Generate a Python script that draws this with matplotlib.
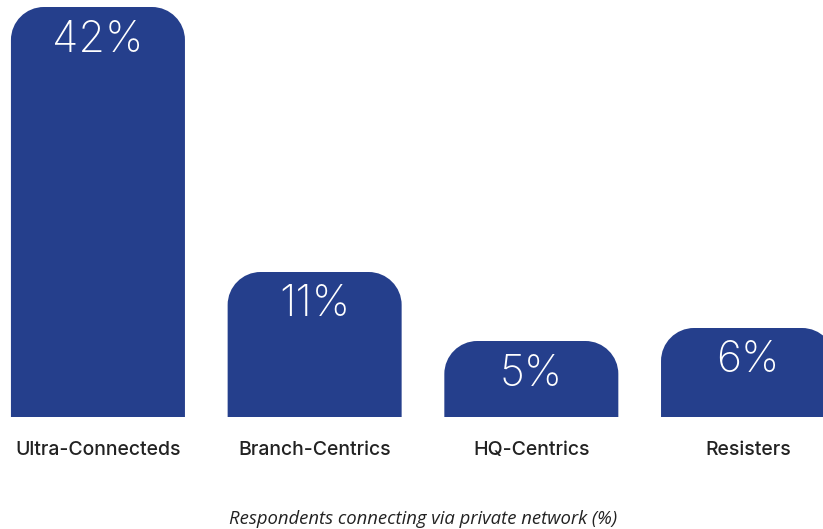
import matplotlib
matplotlib.use("Agg")
import matplotlib.pyplot as plt
from matplotlib.path import Path
from matplotlib.patches import PathPatch

categories = ["Ultra-Connecteds", "Branch-Centrics", "HQ-Centrics", "Resisters"]
value_labels = ["42%", "11%", "5%", "6%"]
# displayed bar heights as drawn in the reference (not proportional to values)
bar_heights = [410, 145, 76, 89]

BAR_COLOR = "#253F8C"
fig = plt.figure(figsize=(8.23, 5.29), dpi=100)
ax = fig.add_axes([0, 0, 1, 1])
ax.set_xlim(-0.452, 3.346)
ax.set_ylim(-112, 417)
ax.axis("off")

width = 0.803
rx = 33 / 216.7
ry = 33.0
k = 0.5523

def rounded_top_bar(xc, h):
    x0, x1 = xc - width / 2, xc + width / 2
    verts = [
        (x0, 0), (x0, h - ry),
        (x0, h - ry + k * ry), (x0 + rx - k * rx, h), (x0 + rx, h),
        (x1 - rx, h),
        (x1 - rx + k * rx, h), (x1, h - ry + k * ry), (x1, h - ry),
        (x1, 0), (x0, 0),
    ]
    codes = [Path.MOVETO, Path.LINETO,
             Path.CURVE4, Path.CURVE4, Path.CURVE4,
             Path.LINETO,
             Path.CURVE4, Path.CURVE4, Path.CURVE4,
             Path.LINETO, Path.CLOSEPOLY]
    return PathPatch(Path(verts, codes), facecolor=BAR_COLOR, edgecolor="none")

for i, (cat, lab, h) in enumerate(zip(categories, value_labels, bar_heights)):
    ax.add_patch(rounded_top_bar(i, h))
    ax.text(i, h - 33, lab, ha="center", va="center", color="white",
            fontsize=31, family=["Inter", "DejaVu Sans"], fontweight="light")
    ax.text(i, -33, cat, ha="center", va="center", color="#222222",
            fontsize=14, family=["Inter", "DejaVu Sans"], fontweight="medium")

ax.text(1.5, -102, "Respondents connecting via private network (%)",
        ha="center", va="center", color="#222222", fontsize=13.3,
        family=["Open Sans", "DejaVu Sans"], style="italic")

fig.savefig("out.png", dpi=100)
